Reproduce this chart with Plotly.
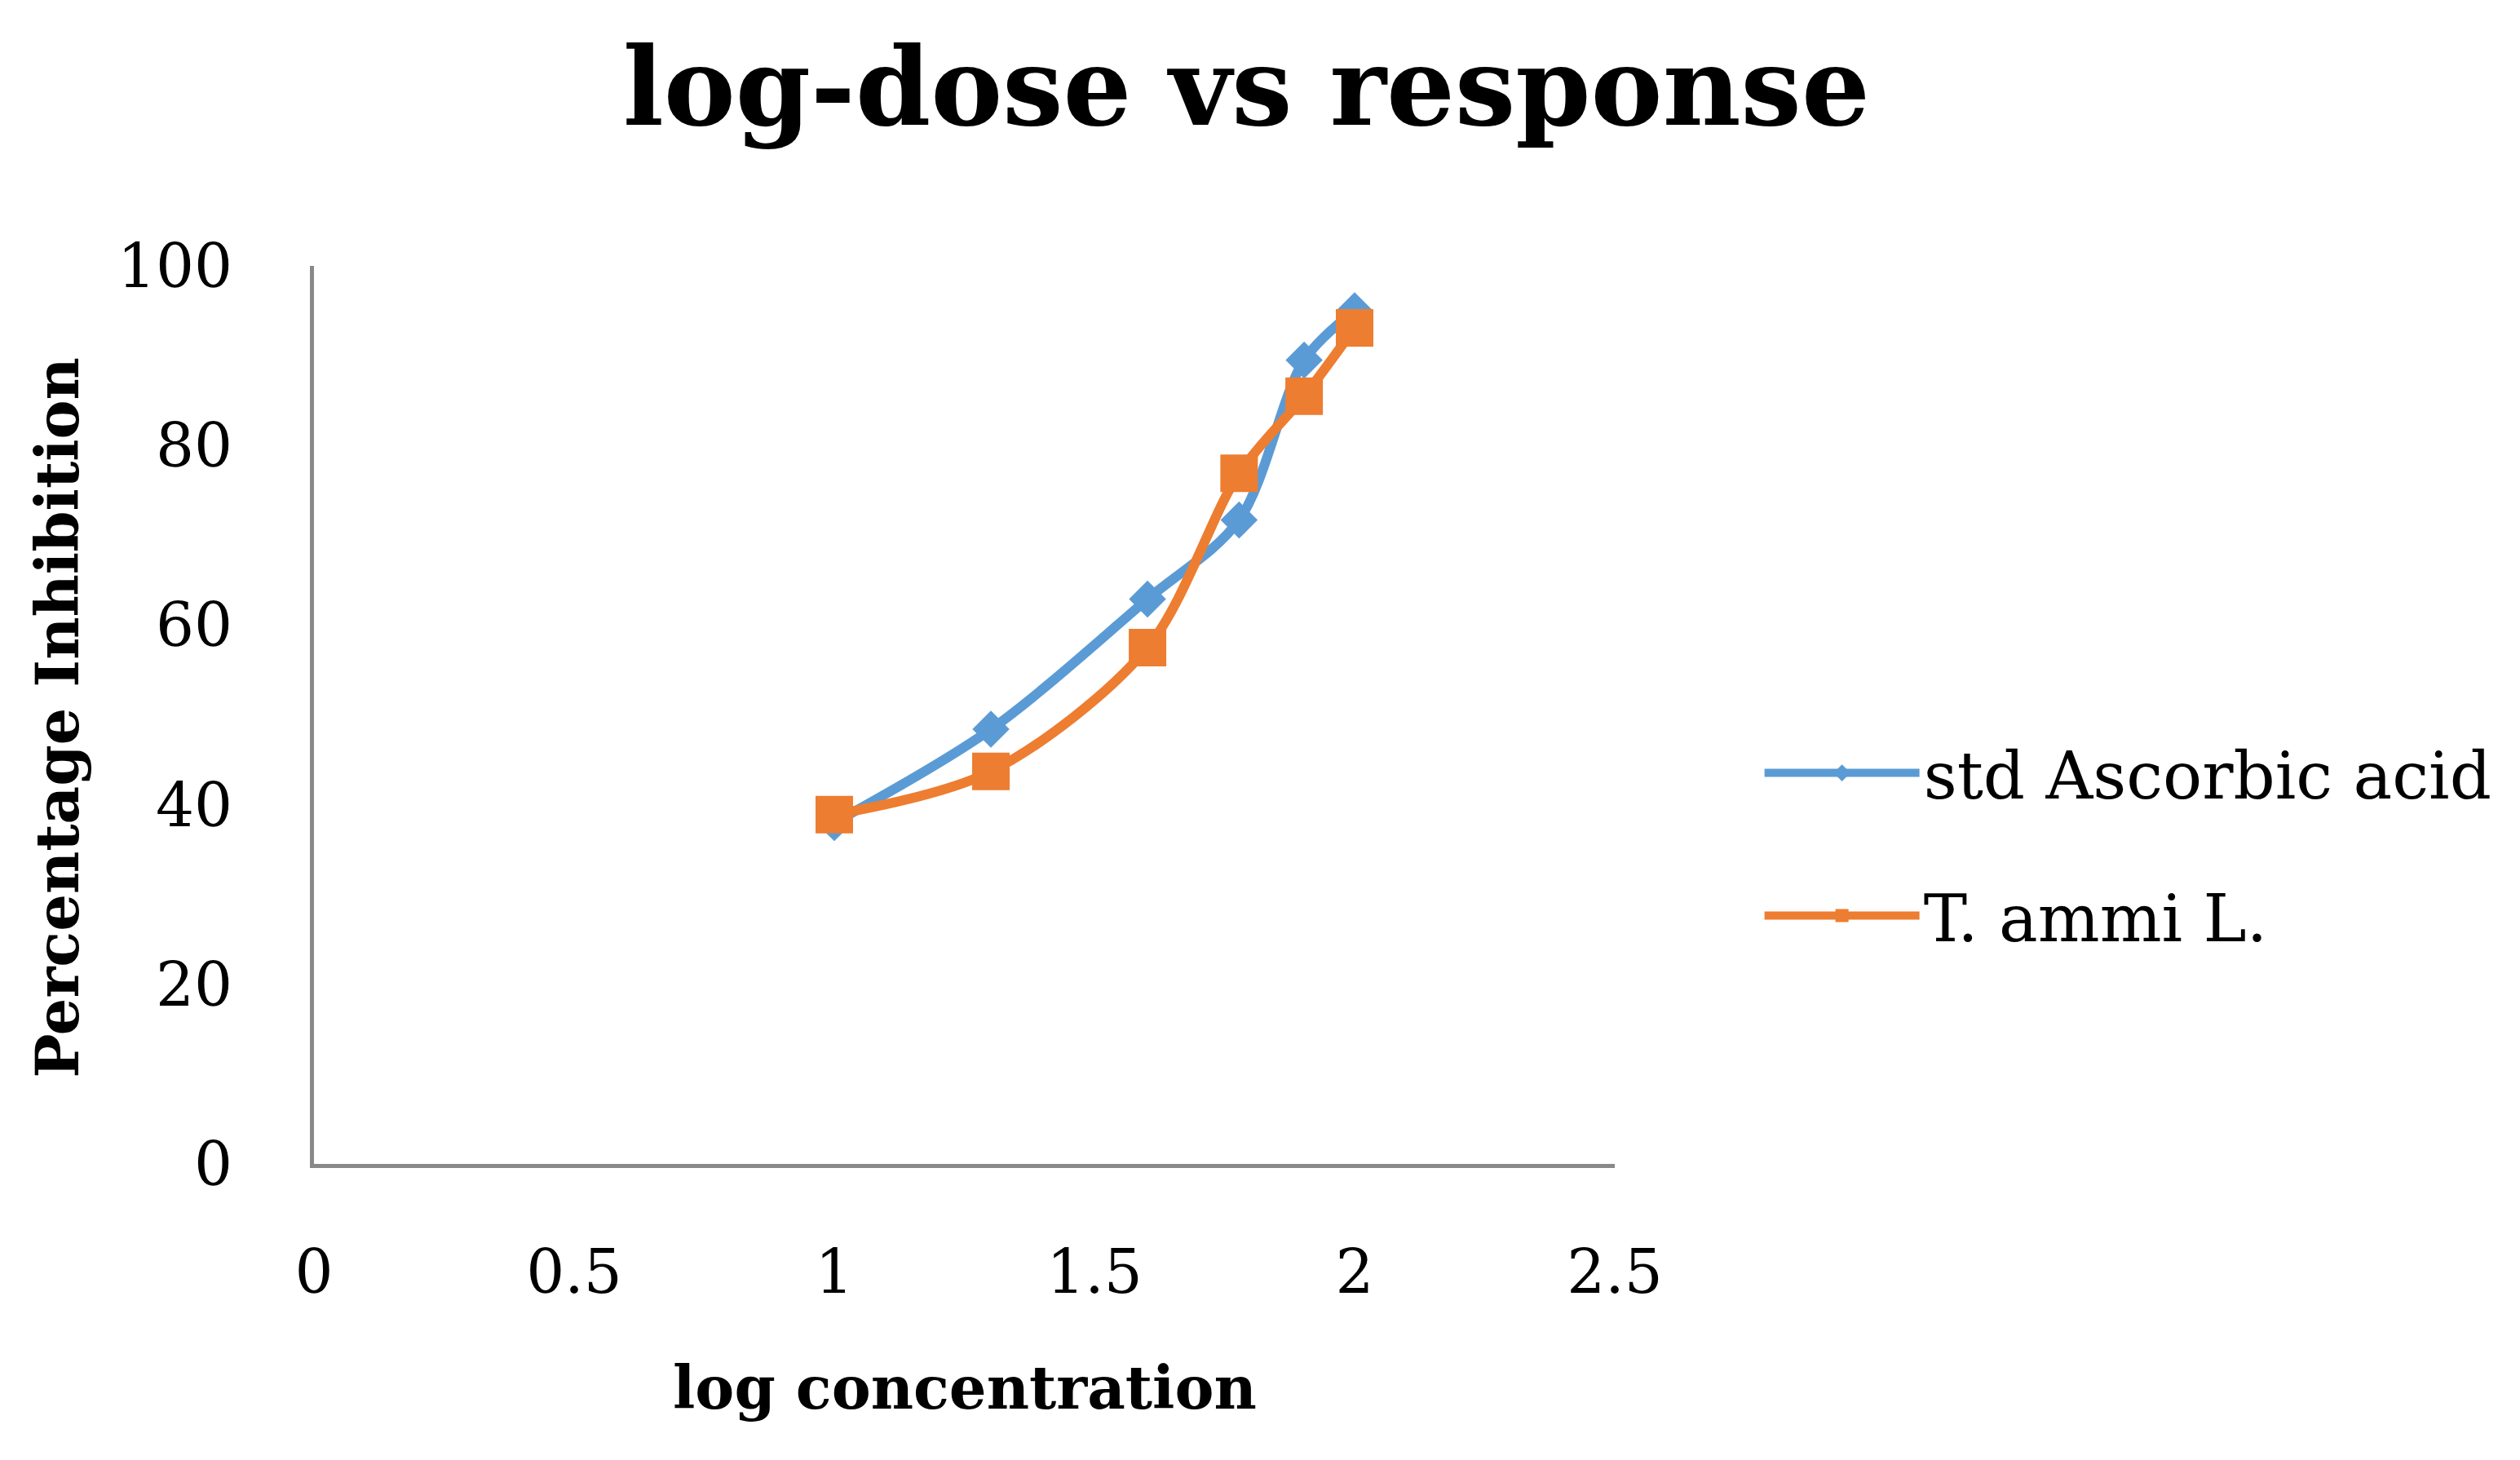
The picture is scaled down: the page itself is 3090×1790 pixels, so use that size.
import plotly.graph_objects as go

log_conc = [1.0, 1.301, 1.602, 1.778, 1.903, 2.0]
std_ascorbic = [38.0, 48.4, 62.9, 71.7, 89.5, 95.0]
t_ammi = [38.9, 43.7, 57.5, 76.9, 85.5, 93.1]
x_ticks = [0, 0.5, 1, 1.5, 2, 2.5]
x_tick_labels = ["0", "0.5", "1", "1.5", "2", "2.5"]
y_ticks = [0, 20, 40, 60, 80, 100]

FONT = "DejaVu Serif"
BLUE = "#5B9BD5"
ORANGE = "#ED7D31"
AXIS = "#898989"

fig = go.Figure()
fig.add_trace(go.Scatter(
    x=log_conc, y=std_ascorbic, name="std Ascorbic acid",
    mode="lines+markers", legendgroup="a",
    line=dict(color=BLUE, width=12, shape="spline", smoothing=0.9),
    marker=dict(symbol="diamond", size=35, color=BLUE),
))
fig.add_trace(go.Scatter(
    x=log_conc, y=t_ammi, name="T. ammi L.",
    mode="lines+markers", legendgroup="b",
    line=dict(color=ORANGE, width=12, shape="spline", smoothing=0.9),
    marker=dict(symbol="square", size=46, color=ORANGE),
))

fig.update_layout(
    width=3090, height=1790,
    paper_bgcolor="white", plot_bgcolor="white",
    margin=dict(l=377, r=1118, t=318, b=371),
    font=dict(family=FONT, color="black", size=74),
    title=dict(text="<b>log-dose vs response</b>", font=dict(family=FONT, size=132, color="black"),
               xref="container", x=0.492, xanchor="center", yref="container", y=0.945, yanchor="middle"),
    legend=dict(x=1.112, xanchor="left", y=0.356, yanchor="middle",
                font=dict(family=FONT, size=80, color="black"),
                traceorder="grouped", tracegroupgap=68, itemwidth=190,
                bgcolor="rgba(0,0,0,0)"),
    showlegend=True,
)
fig.update_xaxes(range=[0, 2.5], tickvals=x_ticks, ticktext=x_tick_labels,
                 showgrid=False, zeroline=False, showline=True, linecolor=AXIS, linewidth=5,
                 ticks="", ticklabelstandoff=64, tickfont=dict(size=74, family=FONT))
fig.update_yaxes(range=[0, 100], tickvals=y_ticks,
                 showgrid=False, zeroline=False, showline=True, linecolor=AXIS, linewidth=5,
                 ticks="", ticklabelstandoff=80, tickfont=dict(size=74, family=FONT))

fig.add_annotation(text="<b>log concentration</b>", xref="paper", yref="paper",
                   x=0.5, y=-0.249, xanchor="center", yanchor="middle", showarrow=False,
                   font=dict(family=FONT, size=72, color="black"))
fig.add_annotation(text="<b>Percentage Inhibition</b>", xref="paper", yref="paper",
                   x=-0.197, y=0.497, xanchor="center", yanchor="middle", showarrow=False, textangle=-90,
                   font=dict(family=FONT, size=72, color="black"))

fig.write_html("out.html")
